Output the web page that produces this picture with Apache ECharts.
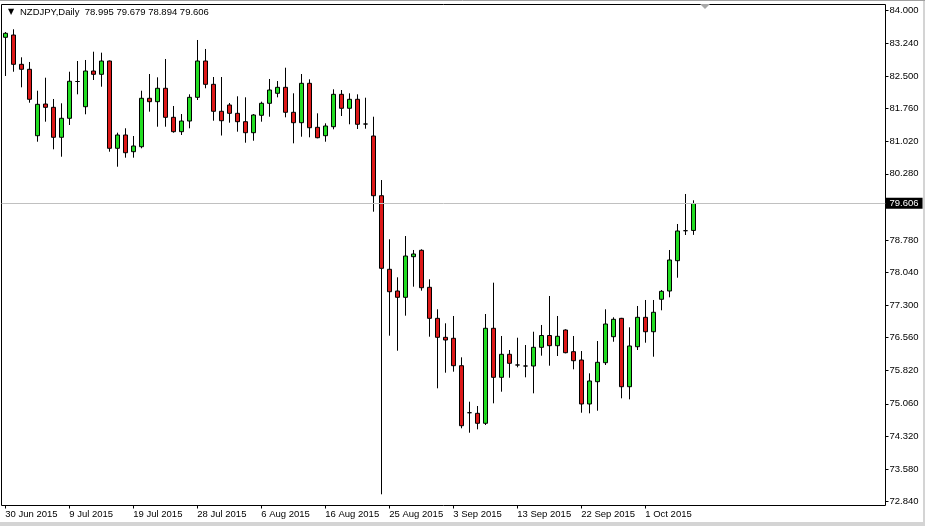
<!DOCTYPE html>
<html>
<head>
<meta charset="utf-8">
<script src="https://cdn.jsdelivr.net/npm/echarts@6/dist/echarts.min.js"></script>
<style>
html,body{margin:0;padding:0;background:#fff;}
#chart{width:925px;height:526px;}
</style>
</head>
<body>
<div id="chart"></div>
<script>
// ---- data ----
var dates = ['30 Jun 2015','1 Jul 2015','2 Jul 2015','3 Jul 2015','5 Jul 2015','6 Jul 2015','7 Jul 2015','8 Jul 2015',
'9 Jul 2015','10 Jul 2015','12 Jul 2015','13 Jul 2015','14 Jul 2015','15 Jul 2015','16 Jul 2015','17 Jul 2015',
'19 Jul 2015','20 Jul 2015','21 Jul 2015','22 Jul 2015','23 Jul 2015','24 Jul 2015','26 Jul 2015','27 Jul 2015',
'28 Jul 2015','29 Jul 2015','30 Jul 2015','31 Jul 2015','2 Aug 2015','3 Aug 2015','4 Aug 2015','5 Aug 2015',
'6 Aug 2015','7 Aug 2015','9 Aug 2015','10 Aug 2015','11 Aug 2015','12 Aug 2015','13 Aug 2015','14 Aug 2015',
'16 Aug 2015','17 Aug 2015','18 Aug 2015','19 Aug 2015','20 Aug 2015','21 Aug 2015','23 Aug 2015','24 Aug 2015',
'25 Aug 2015','26 Aug 2015','27 Aug 2015','28 Aug 2015','30 Aug 2015','31 Aug 2015','1 Sep 2015','2 Sep 2015',
'3 Sep 2015','4 Sep 2015','6 Sep 2015','7 Sep 2015','8 Sep 2015','9 Sep 2015','10 Sep 2015','11 Sep 2015',
'13 Sep 2015','14 Sep 2015','15 Sep 2015','16 Sep 2015','17 Sep 2015','18 Sep 2015','20 Sep 2015','21 Sep 2015',
'22 Sep 2015','23 Sep 2015','24 Sep 2015','25 Sep 2015','27 Sep 2015','28 Sep 2015','29 Sep 2015','30 Sep 2015',
'1 Oct 2015','2 Oct 2015','4 Oct 2015','5 Oct 2015','6 Oct 2015','7 Oct 2015','8 Oct 2015'];

var openP = [83.378,83.430,82.765,82.652,81.145,81.864,81.789,81.109,81.540,82.375,81.803,82.613,82.538,82.840,80.859,81.161,
80.782,80.895,81.994,81.917,82.221,81.562,81.236,81.478,82.016,82.840,82.311,81.699,81.842,81.653,81.463,81.213,
81.608,81.880,82.107,82.243,81.676,81.440,82.334,81.335,81.145,81.349,82.084,81.767,81.971,81.410,81.138,79.783,
78.113,77.620,77.477,78.399,78.544,77.704,77.000,76.569,76.547,75.925,74.858,74.844,74.618,76.774,75.661,76.184,
75.941,75.918,75.918,76.342,76.610,76.379,76.735,76.243,76.054,75.056,75.562,75.993,76.583,77.000,75.448,76.356,
77.023,76.696,77.432,77.620,78.308,78.989,78.995];

var highP = [83.498,83.560,82.924,82.818,82.166,82.461,81.978,81.880,82.597,82.840,82.863,83.051,83.029,82.850,81.213,81.313,
81.138,82.166,82.545,82.470,82.886,81.819,81.637,82.084,83.317,83.113,82.477,82.477,81.887,82.039,82.016,81.637,
81.917,82.432,82.386,82.688,82.107,82.545,82.425,81.653,81.426,82.198,82.182,82.107,82.084,82.007,81.576,80.139,
78.794,77.931,78.868,78.551,78.567,77.886,77.205,76.887,77.053,76.115,75.108,75.010,77.098,77.809,76.599,76.281,
76.560,76.394,76.696,76.849,77.507,77.053,76.751,76.599,76.258,75.752,76.485,77.205,77.023,77.010,76.796,77.280,
77.416,77.416,77.643,78.551,79.141,79.822,79.679];

var lowP = [82.500,82.597,82.243,81.894,81.009,81.463,80.836,80.668,81.388,82.084,81.631,82.409,82.257,80.782,80.441,80.646,
80.646,80.859,81.690,81.349,81.349,81.213,81.161,81.313,81.955,82.221,81.485,81.149,81.440,81.236,80.986,81.031,
81.463,81.576,82.016,81.562,80.972,81.122,81.109,81.086,81.009,81.290,81.592,81.404,81.297,81.304,79.420,73.006,
76.606,76.265,77.060,77.718,77.627,76.583,75.412,75.766,75.789,74.504,74.404,74.481,74.579,75.071,75.335,75.652,
75.888,75.661,75.298,76.152,75.925,76.145,76.206,75.843,74.858,74.844,74.903,75.941,76.469,75.185,75.162,76.281,
76.447,76.129,77.182,77.477,77.922,78.891,78.894];

var closeP = [83.469,82.765,82.652,81.971,81.857,81.789,81.109,81.540,82.380,82.375,82.613,82.538,82.840,80.859,81.161,80.759,
80.911,81.994,81.917,82.221,81.562,81.236,81.478,82.016,82.840,82.311,81.699,81.485,81.653,81.463,81.213,81.615,
81.880,82.182,82.243,81.676,81.440,82.334,81.326,81.099,81.365,82.084,81.767,81.971,81.404,81.410,79.783,78.135,
77.604,77.477,78.414,78.460,77.695,77.000,76.569,76.508,75.925,74.563,74.858,74.618,76.774,75.661,76.184,75.979,
75.941,75.918,76.342,76.610,76.379,76.592,76.220,76.038,75.056,75.578,76.002,76.871,76.978,75.448,76.372,77.023,
76.696,77.137,77.613,78.324,78.982,78.989,79.606];

var yTickLabels = ['84.000','83.240','82.500','81.760','81.020','80.280','78.780','78.040','77.300','76.560','75.820','75.060','74.320','73.580','72.840'];
var xLabelEvery = 8;
var lastPrice = 79.606;
var titleText = 'NZDJPY,Daily  78.995 79.679 78.894 79.606';

// ---- build ----
var candleData = dates.map(function (d, i) { return [i, openP[i], closeP[i], lowP[i], highP[i]]; });
var yTickVals = yTickLabels.map(Number);
var xTickVals = [];
for (var i = 0; i < dates.length; i += xLabelEvery) xTickVals.push(i);

var FONT = "'Liberation Sans', Arial, sans-serif";
var chart = echarts.init(document.getElementById('chart'), null, {renderer: 'canvas'});
chart.setOption({
  animation: false,
  backgroundColor: '#ffffff',
  title: {
    text: '{t|▼}' + titleText,
    left: 8, top: 6, padding: 0,
    textStyle: {
      fontFamily: FONT, fontSize: 9.5, fontWeight: 'normal', color: '#000', lineHeight: 12,
      rich: { t: { fontFamily: "'DejaVu Sans'", fontSize: 8, width: 12, color: '#000', lineHeight: 12 } }
    }
  },
  grid: {
    left: 1.5, top: 4.5, right: 39.5, bottom: 20.5,
    show: true, borderColor: '#000', borderWidth: 1, backgroundColor: '#fff',
    outerBoundsMode: 'none', containLabel: false
  },
  xAxis: {
    type: 'value',
    min: -0.475, max: 110.03,
    axisLine: { show: false, onZero: false },
    splitLine: { show: false },
    axisTick: { show: true, length: 3, lineStyle: { color: '#000' }, customValues: xTickVals },
    axisLabel: {
      customValues: xTickVals, align: 'left', margin: 4,
      fontFamily: FONT, fontSize: 9.5, color: '#000',
      formatter: function (v) { return dates[Math.round(v)] || ''; }
    }
  },
  yAxis: {
    type: 'value', position: 'right',
    min: 72.752, max: 84.1226, scale: true,
    axisLine: { show: false, onZero: false },
    splitLine: { show: false },
    axisTick: { show: true, length: 3, lineStyle: { color: '#000' }, customValues: yTickVals },
    axisLabel: {
      customValues: yTickVals, margin: 4, padding: [0, 0, 5, 0],
      fontFamily: FONT, fontSize: 9.5, color: '#000',
      formatter: function (v) { return v.toFixed(3); }
    }
  },
  graphic: [
    { type: 'polygon', shape: { points: [[700, 4], [710, 4], [705, 9]] }, style: { fill: '#a8a8a8' }, z: 100 },
    { type: 'rect', shape: { x: 0, y: 522, width: 925, height: 4 }, style: { fill: '#d4d4d4' }, z: 100 },
    { type: 'rect', shape: { x: 923, y: 0, width: 2, height: 526 }, style: { fill: '#d4d4d4' }, z: 100 },
    { type: 'line', shape: { x1: 0, y1: 0.5, x2: 925, y2: 0.5 }, style: { stroke: '#a0a0a0', lineWidth: 1 }, z: 100 }
  ],
  series: [{
    type: 'candlestick',
    data: candleData,
    barWidth: 4,
    itemStyle: {
      color: '#22dd22', color0: '#dd1818',
      borderColor: '#000', borderColor0: '#000', borderColorDoji: '#000', borderWidth: 1
    },
    markLine: {
      silent: true, symbol: 'none', animation: false,
      lineStyle: { color: '#c0c0c0', width: 1, type: 'solid' },
      label: {
        show: true, position: 'end', distance: 0,
        backgroundColor: '#000', color: '#fff', padding: [1, 4, 0, 4],
        fontFamily: FONT, fontSize: 9.5, lineHeight: 10,
        formatter: function () { return lastPrice.toFixed(3); }
      },
      data: [{ yAxis: lastPrice }]
    }
  }]
});
</script>
</body>
</html>
